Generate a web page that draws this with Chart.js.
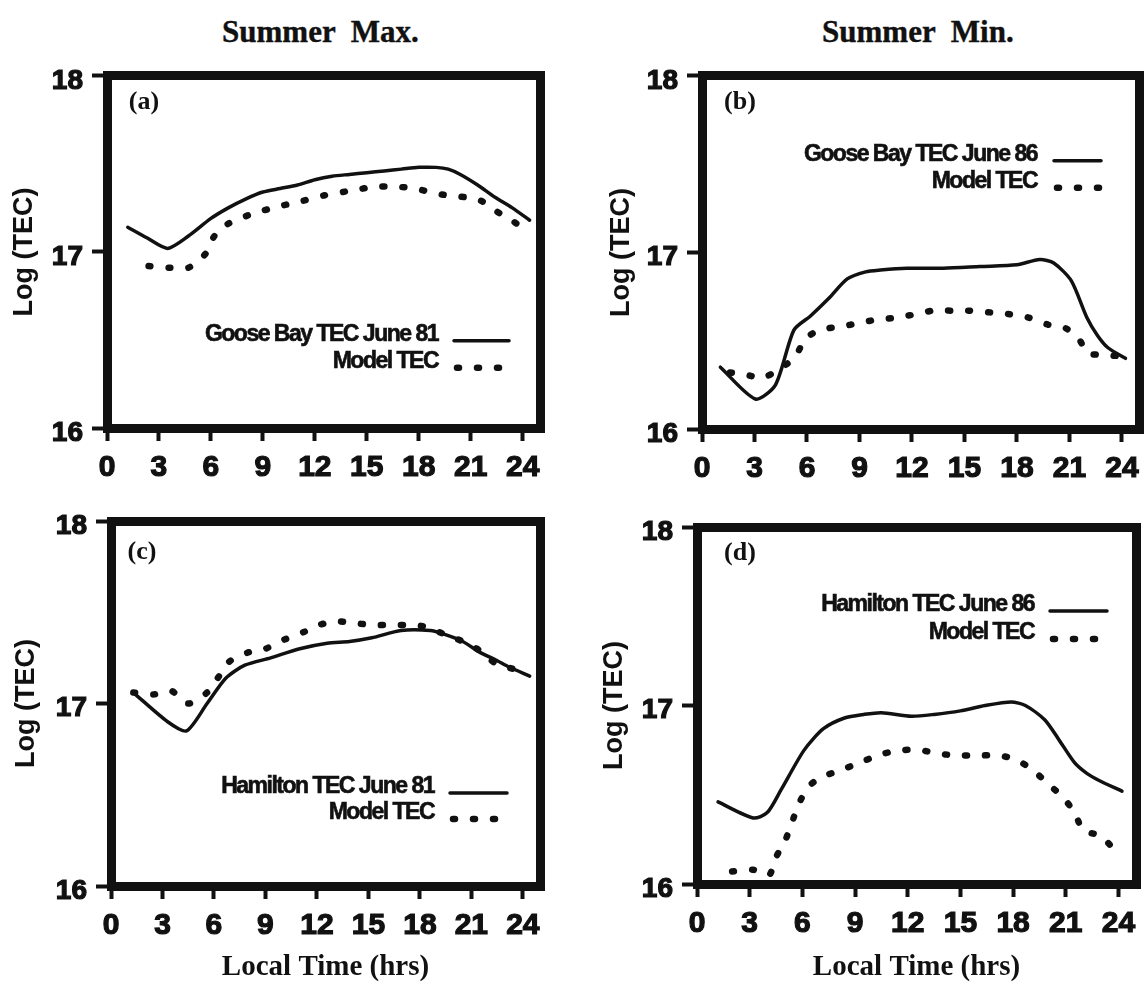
<!DOCTYPE html>
<html>
<head>
<meta charset="utf-8">
<script src="https://cdn.jsdelivr.net/npm/chart.js@4.4.1/dist/chart.umd.min.js"></script>
<style>
html,body{margin:0;padding:0;background:#fff;width:1148px;height:987px;overflow:hidden;}
canvas{position:absolute;}
.col-title{position:absolute;font-family:'Liberation Serif','Times New Roman',serif;font-weight:bold;font-size:31px;line-height:1;white-space:nowrap;word-spacing:8px;color:#111;-webkit-text-stroke:0.4px #111;}
</style>
</head>
<body>
<div class="col-title" id="title0" style="left:222px;top:16px"></div>
<div class="col-title" id="title1" style="left:822px;top:16px"></div>
<canvas id="ca" width="574" height="440" style="left:0px;top:50px"></canvas>
<canvas id="cb" width="574" height="440" style="left:574px;top:50px"></canvas>
<canvas id="cc" width="574" height="497" style="left:0px;top:490px"></canvas>
<canvas id="cd" width="574" height="497" style="left:574px;top:490px"></canvas>
<script>
// ---------- text ----------
const columnTitles = ['Summer Max.', 'Summer Min.'];
const panelLabels = ['(a)', '(b)', '(c)', '(d)'];
const observedLabels = ['Goose Bay TEC June 81', 'Goose Bay TEC June 86', 'Hamilton TEC June 81', 'Hamilton TEC June 86'];
const modelLabel = 'Model TEC';
const yAxisTitle = 'Log (TEC)';
const xAxisTitle = 'Local Time (hrs)';

// ---------- ticks ----------
const xTickValues = [0, 3, 6, 9, 12, 15, 18, 21, 24];
const yTickValues = [16, 17, 18];

// ---------- (a) Goose Bay, June 81 ----------
const aObsHours = [1.2, 2.3, 3.5, 4.7, 6, 7, 8, 9, 10, 11, 12, 13, 14, 15, 16, 17, 18, 19, 19.7, 20.4, 21.4, 22.4, 23.4, 24.4];
const aObsTEC   = [17.14, 17.08, 17.02, 17.09, 17.19, 17.25, 17.30, 17.34, 17.36, 17.38, 17.41, 17.43, 17.44, 17.45, 17.46, 17.47, 17.48, 17.48, 17.47, 17.44, 17.38, 17.31, 17.25, 17.18];
const aModelHours = [2.4, 3.6, 4.7, 5.7, 6.2, 7, 8.5, 10, 11.3, 12.5, 14.2, 15.5, 16.7, 17.8, 18.6, 19.7, 20.7, 21.6, 22.5, 23.5, 24.3];
const aModelTEC   = [16.92, 16.91, 16.91, 16.99, 17.09, 17.16, 17.22, 17.26, 17.29, 17.32, 17.35, 17.37, 17.37, 17.36, 17.34, 17.32, 17.31, 17.29, 17.23, 17.17, 17.12];

// ---------- (b) Goose Bay, June 86 ----------
const bObsHours = [1.05, 3.05, 4.2, 5.25, 6.2, 7.25, 8.3, 9.35, 10.2, 11.7, 13.8, 15.9, 18.0, 19.3, 20.1, 21.1, 22.0, 22.6, 23.2, 24.2];
const bObsTEC   = [16.35, 16.17, 16.25, 16.56, 16.64, 16.74, 16.85, 16.89, 16.90, 16.91, 16.91, 16.92, 16.93, 16.96, 16.94, 16.84, 16.63, 16.53, 16.46, 16.40];
const bModelHours = [1.6, 2.4, 3.5, 5.25, 5.9, 6.7, 7.9, 9.0, 10.0, 11.1, 12.2, 13.2, 14.3, 15.3, 16.5, 17.6, 18.7, 19.8, 20.8, 21.6, 22.0, 23.0, 24.1];
const bModelTEC   = [16.32, 16.31, 16.29, 16.40, 16.51, 16.56, 16.58, 16.60, 16.62, 16.63, 16.65, 16.67, 16.67, 16.67, 16.66, 16.65, 16.63, 16.59, 16.57, 16.50, 16.43, 16.42, 16.41];

// ---------- (c) Hamilton, June 81 ----------
const cObsHours = [1.3, 3.3, 4.4, 5.6, 6.7, 7.8, 9.3, 11.0, 12.6, 13.9, 15.2, 16.9, 18.6, 19.4, 20.5, 21.5, 22.4, 23.2, 24.4];
const cObsTEC   = [17.06, 16.90, 16.85, 17.00, 17.14, 17.21, 17.25, 17.30, 17.33, 17.34, 17.36, 17.40, 17.40, 17.38, 17.34, 17.28, 17.24, 17.20, 17.15];
const cModelHours = [1.3, 2.5, 3.5, 4.5, 5.6, 6.3, 6.9, 8.0, 9.0, 10.1, 11.2, 12.1, 13.2, 14.2, 15.3, 16.3, 17.4, 18.4, 19.4, 20.5, 21.5, 22.4, 23.4];
const cModelTEC   = [17.06, 17.05, 17.07, 17.00, 17.06, 17.15, 17.23, 17.28, 17.30, 17.35, 17.39, 17.43, 17.45, 17.44, 17.43, 17.43, 17.43, 17.42, 17.38, 17.34, 17.29, 17.22, 17.19];

// ---------- (d) Hamilton, June 86 ----------
const dObsHours = [1.2, 3.2, 4.0, 4.8, 6.1, 7.2, 8.4, 9.5, 10.5, 12.2, 13.5, 15.0, 16.4, 17.9, 18.7, 19.8, 20.6, 21.5, 22.2, 22.9, 24.2];
const dObsTEC   = [16.46, 16.37, 16.40, 16.53, 16.75, 16.87, 16.93, 16.95, 16.96, 16.94, 16.95, 16.97, 17.00, 17.02, 17.00, 16.92, 16.81, 16.68, 16.62, 16.58, 16.52];
const dModelHours = [2.0, 3.2, 4.1, 4.5, 5.05, 5.5, 5.9, 6.5, 7.4, 8.5, 9.5, 10.6, 11.7, 12.7, 13.8, 14.8, 16.0, 17.1, 18.1, 19.1, 20.0, 20.8, 21.5, 22.0, 23.0, 23.6];
const dModelTEC   = [16.07, 16.08, 16.05, 16.15, 16.25, 16.37, 16.47, 16.56, 16.61, 16.65, 16.69, 16.73, 16.75, 16.75, 16.73, 16.72, 16.72, 16.72, 16.70, 16.64, 16.56, 16.49, 16.40, 16.30, 16.27, 16.21];

// ---------- styling / layout ----------
const INK = '#111';
const SANS = "'Liberation Sans', Arial, Helvetica, sans-serif";
const SERIF = "'Liberation Serif', 'Times New Roman', serif";
const FRAME = 9;

document.getElementById('title0').textContent = columnTitles[0];
document.getElementById('title1').textContent = columnTitles[1];

const panels = [
  { id: 'ca', box: {x: 0, y: 50, w: 574, h: 440}, area: {l: 107, t: 71, r: 540, b: 428},
    obsLabel: observedLabels[0], panelLabel: panelLabels[0], obsH: aObsHours, obsV: aObsTEC, modH: aModelHours, modV: aModelTEC,
    xTitle: false, yTitleX: 25, legend: {textRight: 331, top: 259, row: 27, gap: 16, sw: 55, dy: 6}, label: {dx: 37, dy: 26} },
  { id: 'cb', box: {x: 574, y: 50, w: 574, h: 440}, area: {l: 702, t: 74, r: 1141, b: 429},
    obsLabel: observedLabels[1], panelLabel: panelLabels[1], obsH: bObsHours, obsV: bObsTEC, modH: bModelHours, modV: bModelTEC,
    xTitle: false, yTitleX: 622, legend: {textRight: 335, top: 79, row: 27, gap: 17, sw: 47, dy: 6}, label: {dx: 38, dy: 26} },
  { id: 'cc', box: {x: 0, y: 490, w: 574, h: 497}, area: {l: 111, t: 521, r: 540, b: 886},
    obsLabel: observedLabels[2], panelLabel: panelLabels[2], obsH: cObsHours, obsV: cObsTEC, modH: cModelHours, modV: cModelTEC,
    xTitle: true, yTitleX: 27, legend: {textRight: 323, top: 266, row: 26, gap: 16, sw: 57, dy: 6}, label: {dx: 31, dy: 31} },
  { id: 'cd', box: {x: 574, y: 490, w: 574, h: 497}, area: {l: 697, t: 527, r: 1136, b: 884},
    obsLabel: observedLabels[3], panelLabel: panelLabels[3], obsH: dObsHours, obsV: dObsTEC, modH: dModelHours, modV: dModelTEC,
    xTitle: true, yTitleX: 615, legend: {textRight: 337, top: 78, row: 28, gap: 16, sw: 57, dy: 6}, label: {dx: 43, dy: 26} }
];

const insideLegend = {
  id: 'insideLegend',
  afterDraw(chart, args, o) {
    const {ctx, chartArea} = chart;
    ctx.save();
    ctx.font = o.font;
    if ('letterSpacing' in ctx) ctx.letterSpacing = o.letterSpacing;
    ctx.textAlign = 'right';
    ctx.textBaseline = 'middle';
    chart.data.datasets.forEach((ds, i) => {
      const y = chartArea.top + o.top + i * o.row;
      const xr = chartArea.left + o.textRight;
      ctx.fillStyle = o.color;
      ctx.strokeStyle = o.color;
      ctx.lineWidth = o.stroke;
      ctx.setLineDash([]);
      ctx.fillText(ds.label, xr, y);
      ctx.strokeText(ds.label, xr, y);
      ctx.beginPath();
      ctx.lineWidth = ds.borderWidth;
      ctx.strokeStyle = ds.borderColor;
      ctx.setLineDash(ds.borderDash || []);
      ctx.lineCap = ds.borderCapStyle || 'butt';
      const sx = xr + o.gap + (ds.borderDash ? 3 : 0);
      ctx.moveTo(sx, y + o.dy);
      ctx.lineTo(sx + o.sw - (ds.borderDash ? 3 : 0), y + o.dy);
      ctx.stroke();
    });
    ctx.restore();
  }
};

const panelTag = {
  id: 'panelTag',
  afterDraw(chart, args, o) {
    const {ctx, chartArea} = chart;
    ctx.save();
    ctx.font = o.font;
    ctx.fillStyle = o.color;
    ctx.textAlign = 'center';
    ctx.textBaseline = 'middle';
    ctx.fillText(o.text, chartArea.left + o.dx, chartArea.top + o.dy);
    ctx.restore();
  }
};

function frameAxis(position, size) {
  return {
    type: 'linear', position, display: true, min: 0, max: 1,
    ticks: {display: false},
    grid: {display: false, drawTicks: false, lineWidth: FRAME},
    border: {display: true, width: FRAME, color: INK, z: 1},
    afterFit: s => { if (s.isHorizontal()) s.height = size; else s.width = size; }
  };
}

panels.forEach(p => {
  const leftW = p.area.l - p.box.x;
  const topH = p.area.t - p.box.y;
  const rightW = p.box.x + p.box.w - p.area.r;
  const bottomH = p.box.y + p.box.h - p.area.b;
  const yTitleFont = 27;
  const yTitlePad = (p.yTitleX - p.box.x) - yTitleFont * 1.2 / 2;

  new Chart(document.getElementById(p.id), {
    type: 'line',
    data: {
      datasets: [
        { label: p.obsLabel, data: p.obsH.map((h, i) => ({x: h, y: p.obsV[i]})),
          borderColor: INK, borderWidth: 3.5, pointRadius: 0, tension: 0.25,
          borderCapStyle: 'round', borderJoinStyle: 'round', fill: false, xAxisID: 'x', yAxisID: 'y' },
        { label: modelLabel, data: p.modH.map((h, i) => ({x: h, y: p.modV[i]})),
          borderColor: INK, borderWidth: 6.5, borderDash: [2, 18], borderCapStyle: 'round',
          pointRadius: 0, tension: 0.25, fill: false, xAxisID: 'x', yAxisID: 'y' }
      ]
    },
    options: {
      responsive: false, animation: false, devicePixelRatio: 1,
      layout: {padding: 0},
      plugins: {
        legend: {display: false}, tooltip: {enabled: false}, title: {display: false},
        insideLegend: {font: `bold 23px ${SANS}`, letterSpacing: '-1.5px', color: INK, stroke: 0.6,
          textRight: p.legend.textRight, top: p.legend.top, row: p.legend.row, gap: p.legend.gap, sw: p.legend.sw, dy: p.legend.dy},
        panelTag: {text: p.panelLabel, font: `bold 26px ${SERIF}`, color: INK, dx: p.label.dx, dy: p.label.dy}
      },
      scales: {
        x: {
          type: 'linear', position: 'bottom', min: 0, max: 25,
          afterBuildTicks: s => { s.ticks = xTickValues.map(v => ({value: v})); },
          ticks: {color: INK, font: {family: SANS, size: 30, weight: 'bold'}, padding: 9, maxRotation: 0, autoSkip: false,
                  textStrokeColor: INK, textStrokeWidth: 1.2, callback: v => String(v)},
          grid: {drawOnChartArea: false, drawTicks: true, tickLength: 13, tickWidth: 4, tickColor: INK, lineWidth: FRAME, color: INK},
          border: {display: true, width: FRAME, color: INK, z: 1},
          title: {display: p.xTitle, text: xAxisTitle, color: INK,
                  font: {family: SERIF, size: 29, weight: 'bold'}, padding: {top: 0, bottom: 2}},
          afterFit: s => { s.height = bottomH; }
        },
        y: {
          type: 'linear', position: 'left', min: 16, max: 18,
          afterBuildTicks: s => { s.ticks = yTickValues.map(v => ({value: v})); },
          ticks: {color: INK, font: {family: SANS, size: 28, weight: 'bold'}, padding: 9, labelOffset: 5,
                  textStrokeColor: INK, textStrokeWidth: 1.2, callback: v => String(v)},
          grid: {drawOnChartArea: false, drawTicks: true, tickLength: 15, tickWidth: 4, tickColor: INK, lineWidth: FRAME, color: INK},
          border: {display: true, width: FRAME, color: INK, z: 1},
          title: {display: true, text: yAxisTitle, color: INK,
                  font: {family: SANS, size: yTitleFont, weight: 'bold'}, padding: {top: yTitlePad, bottom: 0}},
          afterFit: s => { s.width = leftW; }
        },
        x2: frameAxis('top', topH),
        y2: frameAxis('right', rightW)
      }
    },
    plugins: [insideLegend, panelTag]
  });
});
</script>
</body>
</html>
